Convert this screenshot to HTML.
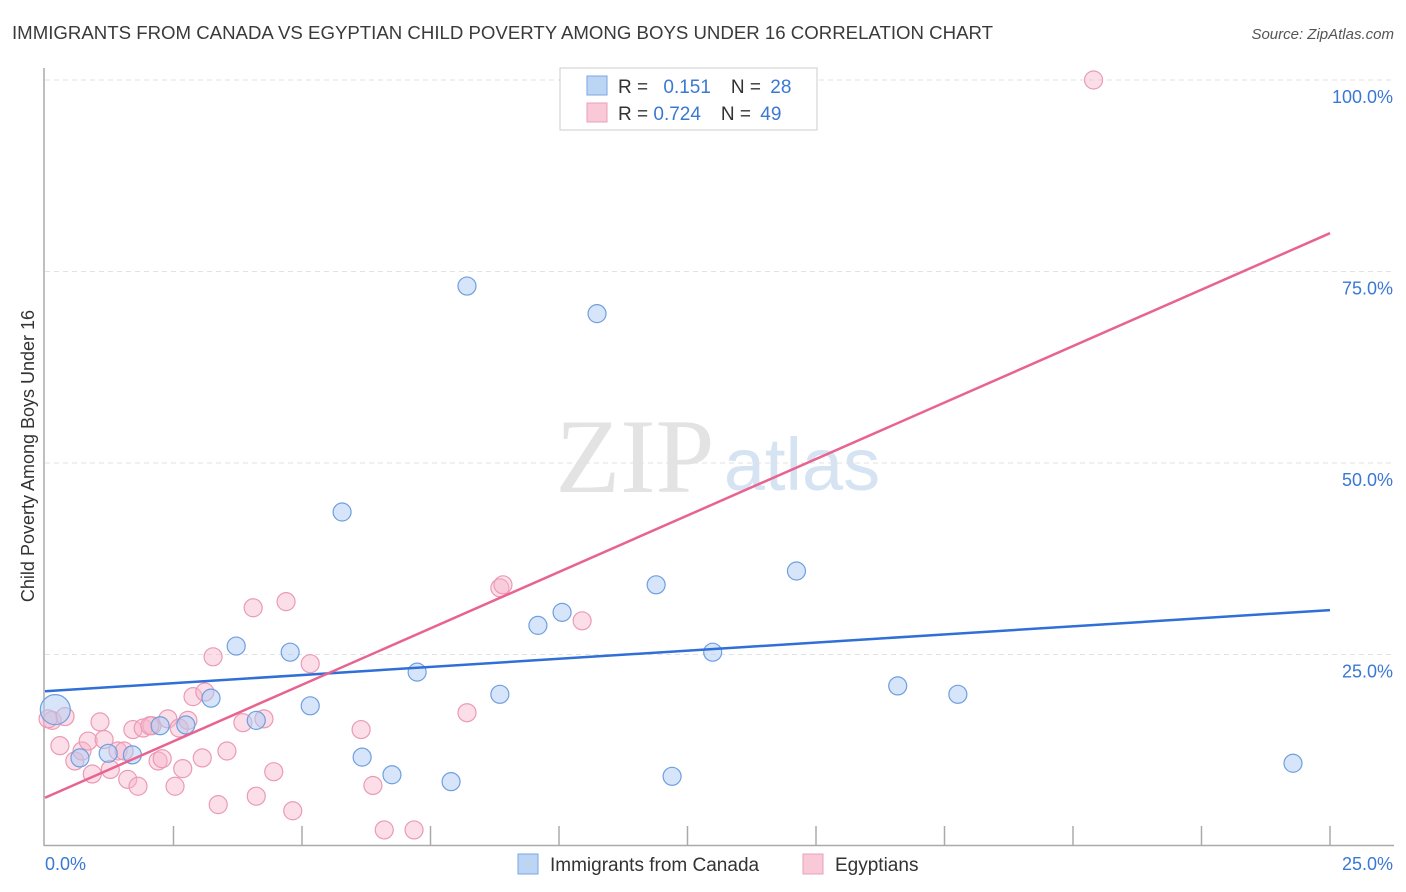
<!DOCTYPE html>
<html><head><meta charset="utf-8"><style>
body{margin:0;background:#fff;font-family:"Liberation Sans",sans-serif;}
#wrap{position:relative;width:1406px;height:892px;overflow:hidden;}
</style></head><body>
<div id="wrap">
<svg id="svg" width="1406" height="892" xmlns="http://www.w3.org/2000/svg">
<text x="12" y="39" font-size="18" fill="#3a3a3a" textLength="981" lengthAdjust="spacingAndGlyphs">IMMIGRANTS FROM CANADA VS EGYPTIAN CHILD POVERTY AMONG BOYS UNDER 16 CORRELATION CHART</text>
<text x="1394" y="39" font-size="15" fill="#555" font-style="italic" text-anchor="end">Source: ZipAtlas.com</text>
<text x="635" y="492" font-size="106" fill="#e3e3e3" font-family="Liberation Serif,serif" text-anchor="middle">ZIP</text>
<text x="802" y="490" font-size="74" fill="#d5e3f3" text-anchor="middle">atlas</text>
<text transform="translate(34,456) rotate(-90)" font-size="18" fill="#333" text-anchor="middle">Child Poverty Among Boys Under 16</text>
<g id="grid"></g><g id="marks"></g>
<g>
<rect x="560" y="68" width="257" height="62" fill="#fff" stroke="#ccc"/>
<rect x="587" y="76" width="20" height="19" fill="#bcd5f5" stroke="#7aa6e0"/>
<rect x="587" y="103" width="20" height="19" fill="#f9c9d7" stroke="#eaa0b8"/>
<text x="618" y="93" font-size="19" fill="#333">R = <tspan fill="#3a78d4" dx="10">0.151</tspan><tspan fill="#333" dx="20">N = </tspan><tspan fill="#3a78d4" dx="4">28</tspan></text>
<text x="618" y="120" font-size="19" fill="#333">R = <tspan fill="#3a78d4">0.724</tspan><tspan fill="#333" dx="20">N = </tspan><tspan fill="#3a78d4" dx="4">49</tspan></text>
</g>
<g>
<rect x="518" y="854" width="20" height="20" fill="#bcd5f5" stroke="#7aa6e0"/>
<text x="550" y="871" font-size="19" fill="#333">Immigrants from Canada</text>
<rect x="803" y="854" width="20" height="20" fill="#f9c9d7" stroke="#eaa0b8"/>
<text x="835" y="871" font-size="19" fill="#333">Egyptians</text>
</g>
</svg>
</div>
<script>
const xTicks=[0,2.5,5,7.5,10,12.5,15,17.5,20,22.5,25];
const yTicks=[25,50,75,100];
const yTickLabels=["25.0%","50.0%","75.0%","100.0%"];
const blueX=[0.2,0.68,1.23,1.7,2.24,2.74,3.23,3.72,4.11,4.77,5.16,5.78,6.17,6.75,7.24,7.9,8.21,8.85,9.59,10.06,10.74,11.89,12.2,12.99,14.62,16.59,17.76,24.28];
const blueY=[17.8,11.5,12.1,11.9,15.7,15.8,19.3,26.1,16.4,25.3,18.3,43.6,11.6,9.3,22.7,8.4,73.1,19.8,28.8,30.5,69.5,34.1,9.1,25.3,35.9,20.9,19.8,10.8];
const pinkX=[20.4,0.14,0.29,0.39,0.58,0.72,0.92,0.84,1.07,1.15,1.27,1.42,1.54,1.61,1.71,1.81,1.91,2.08,2.2,2.28,2.39,2.53,2.61,2.68,2.78,2.88,3.06,3.11,3.27,3.37,3.54,3.85,4.05,4.11,4.26,4.45,4.69,4.82,5.16,6.15,6.38,6.6,7.18,8.21,8.85,8.91,10.45,0.06,2.04];
const pinkY=[100,16.4,13.1,16.9,11.1,12.4,9.4,13.7,16.2,13.9,10.0,12.4,12.4,8.7,15.2,7.8,15.4,15.7,11.1,11.4,16.6,7.8,15.4,10.1,16.4,19.5,11.5,20.1,24.7,5.4,12.4,16.1,31.1,6.5,16.6,9.7,31.9,4.6,23.8,15.2,7.9,2.1,2.1,17.4,33.7,34.1,29.4,16.6,15.7];
const blueLine=[20.2,30.8], pinkLine=[6.3,80.0];
const NS="http://www.w3.org/2000/svg";
const X=v=>45+v/25*1285, Y=v=>846-v/100*766;
function mk(t,a,p){const e=document.createElementNS(NS,t);for(const k in a)e.setAttribute(k,a[k]);p.appendChild(e);return e;}
const grid=document.getElementById('grid'), marks=document.getElementById('marks');
yTicks.forEach((t,i)=>{
 const l=mk('line',{x1:45,x2:1394,y1:Y(t),y2:Y(t),stroke:'#e2e2e2','stroke-dasharray':'5,4'},grid);
 
 
 const tx=mk('text',{x:1393,y:Y(t)+23,'font-size':18,fill:'#3a78d4','text-anchor':'end'},grid);tx.textContent=yTickLabels[i];
 
 
});
mk('line',{x1:45,x2:1394,y1:80,y2:80,stroke:'#e2e2e2','stroke-dasharray':'5,4'},grid);
mk('line',{x1:44,x2:44,y1:68,y2:846,stroke:'#aaa','stroke-width':1.5},grid);
mk('line',{x1:44,x2:1394,y1:845.5,y2:845.5,stroke:'#aaa','stroke-width':1.5},grid);
xTicks.forEach((t,i)=>{if(i==0)return;
 const l=mk('line',{x1:X(t),x2:X(t),y1:826,y2:846,stroke:'#aaa','stroke-width':1.5},grid);
 
 
});
const xl0=mk('text',{x:45,y:870,'font-size':18,fill:'#3a78d4'},grid);xl0.textContent='0.0%';


const xl1=mk('text',{x:1393,y:870,'font-size':18,fill:'#3a78d4','text-anchor':'end'},grid);xl1.textContent='25.0%';


pinkX.forEach((v,i)=>{
 const c=mk('circle',{cx:X(v),cy:Y(pinkY[i]),r:9,fill:'rgba(247,182,203,0.45)',stroke:'#eb9ab5','stroke-width':1.2},marks);
 
 
});
blueX.forEach((v,i)=>{
 const c=mk('circle',{cx:X(v),cy:Y(blueY[i]),r:i==0?15:9,fill:'rgba(173,203,243,0.5)',stroke:'#6f9fdf','stroke-width':1.2},marks);
 
 
});
const bl=mk('line',{x1:X(0),y1:Y(blueLine[0]),x2:X(25),y2:Y(blueLine[1]),stroke:'#2f6fd6','stroke-width':2.5},marks);


const pl=mk('line',{x1:X(0),y1:Y(pinkLine[0]),x2:X(25),y2:Y(pinkLine[1]),stroke:'#e8638f','stroke-width':2.5},marks);


</script>
</body></html>
